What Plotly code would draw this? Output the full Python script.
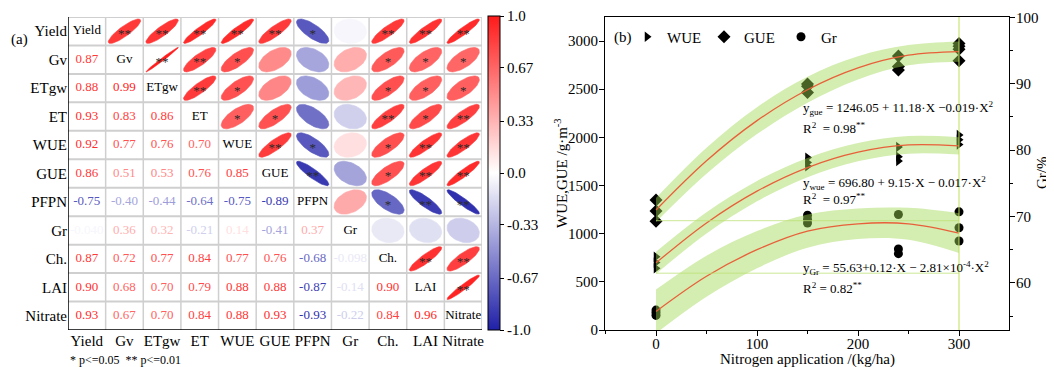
import numpy as np
import plotly.graph_objects as go

# The page body has an 8px default margin, so the figure is offset by (8, 8).
OFF = 8
W, H = 1054 - OFF, 367 - OFF
FONT = "Liberation Serif"


def px(x):
    return (x - OFF) / W


def py(y):
    return 1 - (y - OFF) / H


# ---------------- Panel (a) data ----------------
labels = ["Yield", "Gv", "ETgw", "ET", "WUE", "GUE", "PFPN", "Gr", "Ch.", "LAI", "Nitrate"]
lower = [
    [],
    [0.87],
    [0.88, 0.99],
    [0.93, 0.83, 0.86],
    [0.92, 0.77, 0.76, 0.70],
    [0.86, 0.51, 0.53, 0.76, 0.85],
    [-0.75, -0.40, -0.44, -0.64, -0.75, -0.89],
    [-0.040, 0.36, 0.32, -0.21, 0.14, -0.41, 0.37],
    [0.87, 0.72, 0.77, 0.84, 0.77, 0.76, -0.68, -0.098],
    [0.90, 0.68, 0.70, 0.79, 0.88, 0.88, -0.87, -0.14, 0.90],
    [0.93, 0.67, 0.70, 0.84, 0.88, 0.93, -0.93, -0.22, 0.84, 0.96],
]
signif = [
    ["**", "**", "**", "**", "**", "*", "", "**", "**", "**"],
    ["**", "**", "*", "", "", "", "*", "*", "*"],
    ["**", "*", "", "", "", "*", "*", "*"],
    ["*", "*", "", "", "**", "*", "**"],
    ["**", "*", "", "*", "**", "**"],
    ["**", "", "*", "**", "**"],
    ["", "*", "**", "**"],
    ["", "", ""],
    ["**", "**"],
    ["**"],
]
cbar_vals = [-1.0, -0.67, -0.33, 0.0, 0.33, 0.67, 1.0]
cbar_text = ["-1.0", "-0.67", "-0.33", "0.0", "0.33", "0.67", "1.0"]

# ---------------- Panel (b) data ----------------
wue_x = [0, 0, 0, 150, 150, 150, 240, 240, 240, 300, 300, 300]
wue_y = [760, 700, 640, 1790, 1740, 1700, 1900, 1800, 1755, 2025, 1975, 1925]
gue_x = [0, 0, 0, 150, 150, 150, 240, 240, 240, 300, 300, 300, 300]
gue_y = [1350, 1235, 1130, 2555, 2530, 2465, 2845, 2735, 2700, 2975, 2945, 2915, 2795]
gr_x = [0, 0, 0, 150, 150, 150, 240, 240, 240, 300, 300, 300]
gr_y = [55.9, 55.5, 55.1, 70.2, 69.6, 69.0, 70.3, 65.1, 64.4, 70.7, 68.3, 66.3]

fit_x = [0, 50, 100, 150, 200, 250, 300]
gue_fit = [1246, 1757, 2174, 2495, 2722, 2853, 2890]
wue_fit = [697, 1112, 1442, 1687, 1847, 1922, 1912]
gr_fit = [55.7, 61.0, 65.0, 67.8, 68.9, 68.9, 67.5]
gue_hw = [125, 135, 140, 135, 120, 105, 105]
wue_hw = [115, 110, 105, 100, 95, 92, 90]
gr_hw = [3.3, 3.1, 2.8, 2.5, 2.3, 2.4, 3.0]

eq_texts = [
    "y<sub>gue</sub> = 1246.05 + 11.18·X −0.019·X<sup>2</sup>",
    "R<sup>2</sup>  = 0.98<sup>**</sup>",
    "y<sub>wue</sub> = 696.80 + 9.15·X − 0.017·X<sup>2</sup>",
    "R<sup>2</sup>  = 0.97<sup>**</sup>",
    "y<sub>Gr</sub> = 55.63+0.12·X − 2.81×10<sup>-4</sup>·X<sup>2</sup>",
    "R<sup>2</sup> = 0.82<sup>**</sup>",
]
eq_ypx = [108, 128, 183, 199, 268, 288]

# ---------------- helpers ----------------
n = len(labels)
corr = np.eye(n)
for i, row in enumerate(lower):
    for j, v in enumerate(row):
        corr[i, j] = v
        corr[j, i] = v

RED = (255, 26, 26)
BLUE = (32, 32, 168)


def cmap(r):
    r = max(-1.0, min(1.0, r))
    c = RED if r >= 0 else BLUE
    a = abs(r)
    rgb = [int(round(255 + (ci - 255) * a)) for ci in c]
    return "rgb(%d,%d,%d)" % tuple(rgb)


def fmt(v):
    return f"{v:.3f}" if abs(v) < 0.1 else f"{v:.2f}"


fig = go.Figure()

# ellipses (upper triangle)
t = np.linspace(0, 2 * np.pi, 61)
s = 0.43
for i in range(n):
    for j in range(i + 1, n):
        r = corr[i, j]
        d = np.arccos(np.clip(r, -1, 1))
        ex = j + s * np.cos(t + d / 2)
        ey = i - s * np.cos(t - d / 2)
        col = cmap(r)
        fig.add_trace(go.Scatter(x=ex, y=ey, mode="lines", fill="toself",
                                 fillcolor=col, line=dict(color=col, width=0.6),
                                 hoverinfo="skip", showlegend=False,
                                 xaxis="x", yaxis="y"))

# numbers (lower triangle)
nx, ny, nt, nc = [], [], [], []
for i in range(n):
    for j in range(i):
        nx.append(j)
        ny.append(i)
        nt.append(fmt(corr[i, j]))
        nc.append(cmap(corr[i, j]))
fig.add_trace(go.Scatter(x=nx, y=ny, text=nt, mode="text",
                         textfont=dict(family=FONT, size=13, color=nc),
                         hoverinfo="skip", showlegend=False, xaxis="x", yaxis="y"))
# diagonal labels
fig.add_trace(go.Scatter(x=list(range(n)), y=list(range(n)), text=labels, mode="text",
                         textfont=dict(family=FONT, size=13, color="black"),
                         hoverinfo="skip", showlegend=False, xaxis="x", yaxis="y"))
# stars
sx, sy, st = [], [], []
for i, row in enumerate(signif):
    for k, sg in enumerate(row):
        if sg:
            sx.append(i + 1 + k)
            sy.append(i + 0.12)
            st.append(sg)
fig.add_trace(go.Scatter(x=sx, y=sy, text=st, mode="text",
                         textfont=dict(family=FONT, size=13, color="#2a2a2a"),
                         hoverinfo="skip", showlegend=False, xaxis="x", yaxis="y"))
# colorbar carrier
fig.add_trace(go.Scatter(x=[0], y=[0], mode="markers",
                         marker=dict(size=0.1, opacity=0, color=[0], cmin=-1, cmax=1,
                                     colorscale=[[0, "rgb(32,32,168)"], [0.5, "white"],
                                                 [1, "rgb(255,26,26)"]],
                                     showscale=True,
                                     colorbar=dict(x=px(488), xanchor="left", xpad=0, ypad=0,
                                                   y=py(16), yanchor="top", len=314 / H,
                                                   lenmode="fraction", thickness=12,
                                                   outlinecolor="black", outlinewidth=1,
                                                   tickvals=cbar_vals, ticktext=cbar_text,
                                                   ticks="outside", ticklen=4,
                                                   tickcolor="black",
                                                   tickfont=dict(family=FONT, size=15,
                                                                 color="black"))),
                         hoverinfo="skip", showlegend=False, xaxis="x", yaxis="y"))

# ---------------- panel (b) traces ----------------
fig.add_trace(go.Scatter(x=wue_x, y=wue_y, mode="markers", name="WUE",
                         marker=dict(symbol="triangle-right", size=9, color="black"),
                         xaxis="x2", yaxis="y2"))
fig.add_trace(go.Scatter(x=gue_x, y=gue_y, mode="markers", name="GUE",
                         marker=dict(symbol="diamond", size=10, color="black"),
                         xaxis="x2", yaxis="y2"))

BAND = "rgba(160,215,80,0.45)"
CURVE = "#E8603A"


def add_band(fit, hw, ya):
    up = [f + h for f, h in zip(fit, hw)]
    lo = [f - h for f, h in zip(fit, hw)]
    fig.add_trace(go.Scatter(x=fit_x, y=up, mode="lines", line=dict(width=0, shape="spline"),
                             hoverinfo="skip", showlegend=False, xaxis="x2", yaxis=ya))
    fig.add_trace(go.Scatter(x=fit_x, y=lo, mode="lines", line=dict(width=0, shape="spline"),
                             fill="tonexty", fillcolor=BAND,
                             hoverinfo="skip", showlegend=False, xaxis="x2", yaxis=ya))
    fig.add_trace(go.Scatter(x=fit_x, y=fit, mode="lines",
                             line=dict(color=CURVE, width=1.3, shape="spline"),
                             hoverinfo="skip", showlegend=False, xaxis="x2", yaxis=ya))


add_band(gue_fit, gue_hw, "y2")
add_band(wue_fit, wue_hw, "y2")

fig.add_trace(go.Scatter(x=gr_x, y=gr_y, mode="markers", name="Gr",
                         marker=dict(symbol="circle", size=9, color="black"),
                         xaxis="x2", yaxis="y3"))
add_band(gr_fit, gr_hw, "y3")

# ---------------- shapes ----------------
shapes = []
GRID = "#CFCFCF"
for k in range(1, n + 1):
    b = -0.5 + k
    shapes.append(dict(type="line", xref="x", yref="y", x0=b, x1=b, y0=-0.5, y1=10.5,
                       line=dict(color=GRID, width=1.5), layer="below"))
for k in range(0, n):
    b = -0.5 + k
    shapes.append(dict(type="line", xref="x", yref="y", x0=-0.5, x1=10.5, y0=b, y1=b,
                       line=dict(color=GRID, width=2), layer="below"))
shapes.append(dict(type="line", xref="x", yref="y", x0=-0.5, x1=-0.5, y0=-0.5, y1=10.5,
                   line=dict(color="black", width=1.5)))
shapes.append(dict(type="line", xref="x", yref="y", x0=-0.5, x1=10.5, y0=10.5, y1=10.5,
                   line=dict(color="black", width=1.5)))
# light green guide lines in panel (b)
LG = "rgba(190,225,120,0.8)"
for yv in [1135, 590]:
    shapes.append(dict(type="line", xref="x2", yref="y2", x0=0, x1=300, y0=yv, y1=yv,
                       line=dict(color=LG, width=1)))
shapes.append(dict(type="line", xref="x2", yref="y2", x0=300, x1=300, y0=0, y1=3250,
                   line=dict(color="rgba(190,225,90,1)", width=1)))

# ---------------- annotations ----------------
ann = []


def add_text(txt, x, y, size=15, xanchor="center", angle=0):
    ann.append(dict(text=txt, x=px(x), y=py(y), xref="paper", yref="paper",
                    xanchor=xanchor, yanchor="middle", showarrow=False, textangle=angle,
                    font=dict(family=FONT, size=size, color="black")))


add_text("(a)", 19, 40)
add_text("* p<=0.05  ** p<=0.01", 68, 360, size=12, xanchor="left")
add_text("(b)", 623, 37)
for txt, yp in zip(eq_texts, eq_ypx):
    add_text(txt, 801, yp, size=13, xanchor="left")
add_text("Nitrogen application /(kg/ha)", 807, 359.5)
add_text("WUE,GUE /g·m<sup>-3</sup>", 561, 173, angle=-90)
add_text("Gr/%", 1042, 173, angle=-90)

tickfont = dict(family=FONT, size=15, color="black")
dom_y = [py(330), py(17)]

fig.update_layout(
    width=W, height=H, margin=dict(l=0, r=0, t=0, b=0, autoexpand=False),
    paper_bgcolor="white", plot_bgcolor="rgba(0,0,0,0)",
    font=dict(family=FONT, size=15, color="black"),
    xaxis=dict(domain=[px(68), px(482)], range=[-0.5, 10.5], tickvals=list(range(n)),
               ticktext=labels, ticks="", showgrid=False, zeroline=False, showline=False,
               tickfont=tickfont, fixedrange=True, automargin=False),
    yaxis=dict(domain=dom_y, range=[10.5, -0.5], tickvals=list(range(n)),
               ticktext=labels, ticks="", showgrid=False, zeroline=False, showline=False,
               tickfont=tickfont, fixedrange=True, anchor="x", automargin=False),
    xaxis2=dict(domain=[px(605), px(1009)], range=[-50.5, 349.5], anchor="y2",
                tickvals=[0, 100, 200, 300], ticks="outside", ticklen=5, tickcolor="black",
                showline=True, linecolor="black", linewidth=1.2, mirror=True,
                showgrid=False, zeroline=False, tickfont=tickfont, automargin=False,
                ticklabelstandoff=-5,
                minor=dict(ticks="outside", ticklen=3, dtick=50, tick0=0, tickcolor="black")),
    yaxis2=dict(domain=dom_y, range=[0, 3250], anchor="x2", automargin=False,
                tickvals=[0, 500, 1000, 1500, 2000, 2500, 3000], ticks="outside", ticklen=5,
                tickcolor="black", showline=True, linecolor="black", linewidth=1.2,
                showgrid=False, zeroline=False, tickfont=tickfont, ticklabelstandoff=-2),
    yaxis3=dict(domain=dom_y, range=[52.9, 100.05], overlaying="y2", side="right",
                anchor="x2", tickvals=[60, 70, 80, 90, 100], ticks="outside", ticklen=5,
                tickcolor="black", showline=True, linecolor="black", linewidth=1.2,
                showgrid=False, zeroline=False, tickfont=tickfont, automargin=False,
                ticklabelstandoff=-2,
                minor=dict(ticks="outside", ticklen=3, dtick=5, tick0=0, tickcolor="black")),
    legend=dict(orientation="h", x=px(627), y=py(37), xanchor="left", yanchor="middle",
                bgcolor="rgba(0,0,0,0)", font=dict(family=FONT, size=15, color="black"),
                entrywidth=32, itemwidth=30, traceorder="normal"),
    shapes=shapes, annotations=ann,
)

fig.write_html("out.html")
